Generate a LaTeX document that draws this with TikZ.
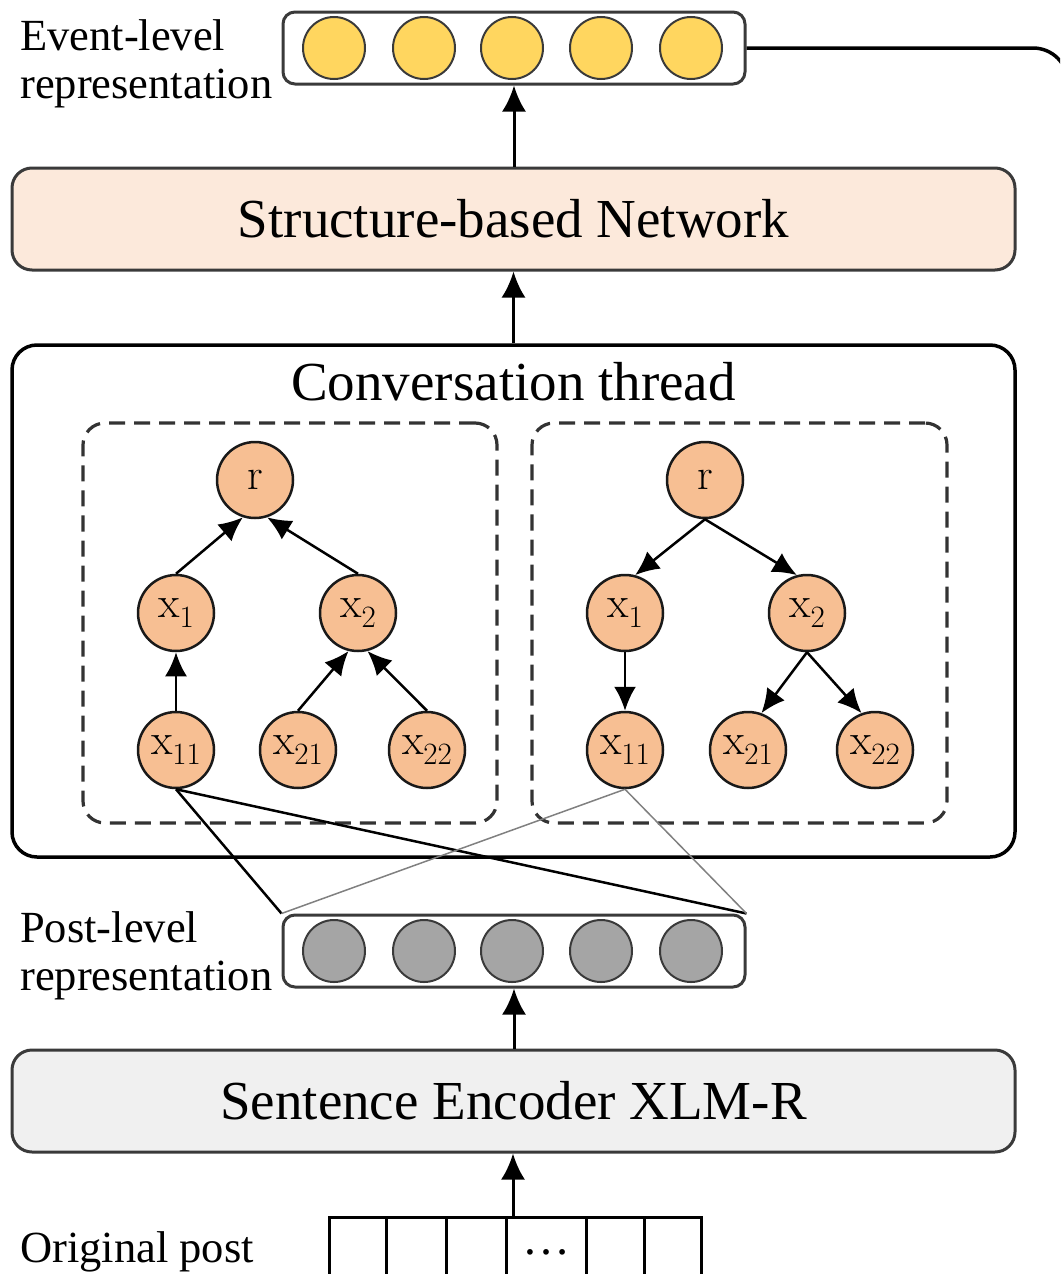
\documentclass[tikz,border=0pt]{standalone}
\usepackage{fontspec}
\setmainfont{Liberation Serif}
\newfontfamily\lmr{Latin Modern Roman}
\usetikzlibrary{arrows.meta}
\definecolor{peach}{HTML}{F7BF93}
\definecolor{evyellow}{HTML}{FFD65F}
\definecolor{postgray}{HTML}{A5A5A5}
\definecolor{strfill}{HTML}{FCE9DB}
\definecolor{encfill}{HTML}{F0F0F0}
\definecolor{boxline}{HTML}{3A3A3A}
\newcommand{\tsub}[1]{\raisebox{-0.22em}{\fontsize{31}{34}\selectfont #1}}
\begin{document}
\begin{tikzpicture}[x=1pt,y=-1pt,
  bigtext/.style={font=\fontsize{55}{60}\selectfont},
  lbl/.style={anchor=base west, inner sep=0pt, font=\fontsize{44.5}{48}\selectfont},
  bigbox/.style={draw=boxline, line width=3pt, rounded corners=20pt, minimum width=1003pt, bigtext},
  vecbox/.style={draw=boxline, line width=3pt, rounded corners=12pt, minimum width=462pt, minimum height=72pt},
  dotcirc/.style={circle, draw=boxline, line width=2pt, minimum size=62pt, inner sep=0pt},
  tnode/.style={circle, draw=black!90, fill=peach, line width=2.5pt, minimum size=76pt, inner sep=0pt, font=\lmr\fontsize{44}{46}\selectfont},
  dbox/.style={draw=black!80, line width=3.2pt, dash pattern=on 16pt off 9pt, rounded corners=22pt, minimum height=400pt},
  tarrow/.style={line width=2.5pt, -{Latex[length=24pt,width=22pt]}},
  flow/.style={line width=3pt, -{Latex[length=26pt,width=24pt]}},
  cellbox/.style={draw=black, line width=3pt, minimum height=75pt, inner sep=0pt}
]
\useasboundingbox (0,0) rectangle (1060,1274);
\clip (0,0) rectangle (1060,1274);

% Event-level representation
\node[lbl] (evl1) at (20,50) {Event-level};
\node[lbl] (evl2) at (20,98) {representation};
\node[vecbox] (ev) at (514,48) {};
\foreach \i/\x in {1/334,2/424,3/512,4/601,5/691}
  \node[dotcirc, fill=evyellow] (e\i) at (\x,48) {};
\draw[line width=3.5pt, rounded corners=35pt] (ev.east) -- (1068,48) -- (1068,400);

% Structure-based Network
\node[bigbox, fill=strfill, minimum height=102pt] (sbn) at (513.5,219) {Structure-based Network};
\draw[flow] (sbn.north -| ev.south) -- (ev.south);

% Conversation thread
\node[draw=black, line width=3.5pt, rounded corners=25pt, minimum width=1003pt, minimum height=512pt] (conv) at (513.5,601) {};
\node[bigtext, inner sep=0pt] (convt) at (513.5,382) {Conversation thread};
\draw[flow] (conv.north) -- (sbn.south);

\node[dbox, minimum width=414pt] (dl) at (290,623) {};
\node[dbox, minimum width=415pt] (dr) at (739.5,623) {};

% left tree (arrows upward)
\node[tnode] (Lr) at (255,480) {r};
\node[tnode] (L1) at (176,613) {x\tsub{1}};
\node[tnode] (L2) at (358,613) {x\tsub{2}};
\node[tnode] (L11) at (176,750) {x\tsub{11}};
\node[tnode] (L21) at (298,750) {x\tsub{21}};
\node[tnode] (L22) at (427,750) {x\tsub{22}};
\draw[tarrow] (L1.north) -- (Lr.-108);
\draw[tarrow] (L2.north) -- (Lr.-72);
\draw[tarrow] (L11.north) -- (L1.south);
\draw[tarrow] (L21.north) -- (L2.-104);
\draw[tarrow] (L22.north) -- (L2.-76);

% right tree (arrows downward)
\node[tnode] (Rr) at (705,480) {r};
\node[tnode] (R1) at (625,613) {x\tsub{1}};
\node[tnode] (R2) at (807,613) {x\tsub{2}};
\node[tnode] (R11) at (625,750) {x\tsub{11}};
\node[tnode] (R21) at (748,750) {x\tsub{21}};
\node[tnode] (R22) at (875,750) {x\tsub{22}};
\draw[tarrow] (Rr.south) -- (R1.75);
\draw[tarrow] (Rr.south) -- (R2.105);
\draw[tarrow] (R1.south) -- (R11.north);
\draw[tarrow] (R2.south) -- (R21.70);
\draw[tarrow] (R2.south) -- (R22.110);

% Post-level representation
\node[lbl] (pl1) at (20,942) {Post-level};
\node[lbl] (pl2) at (20,990) {representation};
\node[vecbox] (post) at (514,951) {};
\foreach \i/\x in {1/334,2/424,3/512,4/601,5/691}
  \node[dotcirc, fill=postgray] (p\i) at (\x,951) {};

\draw[line width=2.5pt, black] (L11.south) -- (post.north west);
\draw[line width=2.5pt, black] (L11.south) -- (post.north east);
\draw[line width=1.5pt, black!50] (R11.south) -- (post.north west);
\draw[line width=1.5pt, black!50] (R11.south) -- (post.north east);

% Sentence Encoder
\node[bigbox, fill=encfill, minimum height=102pt] (enc) at (513.5,1101) {Sentence Encoder XLM-R};
\draw[flow] (enc.north -| post.south) -- (post.south);

% Original post
\node[lbl] (opl) at (20,1262) {Original post};
\foreach \i/\a/\b in {1/329/386,2/386/446,3/446/506,4/506/586,5/586/644,6/644/701}
  \node[cellbox, minimum width={\b-\a}] (c\i) at ({(\a+\b)/2},1254.5) {};
\node[font=\fontsize{48}{50}\selectfont, inner sep=0pt] (dots) at (546,1252) {…};
\coordinate (inp) at (513,1217);
\draw[flow] (inp) -- (inp |- enc.south);
\end{tikzpicture}
\end{document}
